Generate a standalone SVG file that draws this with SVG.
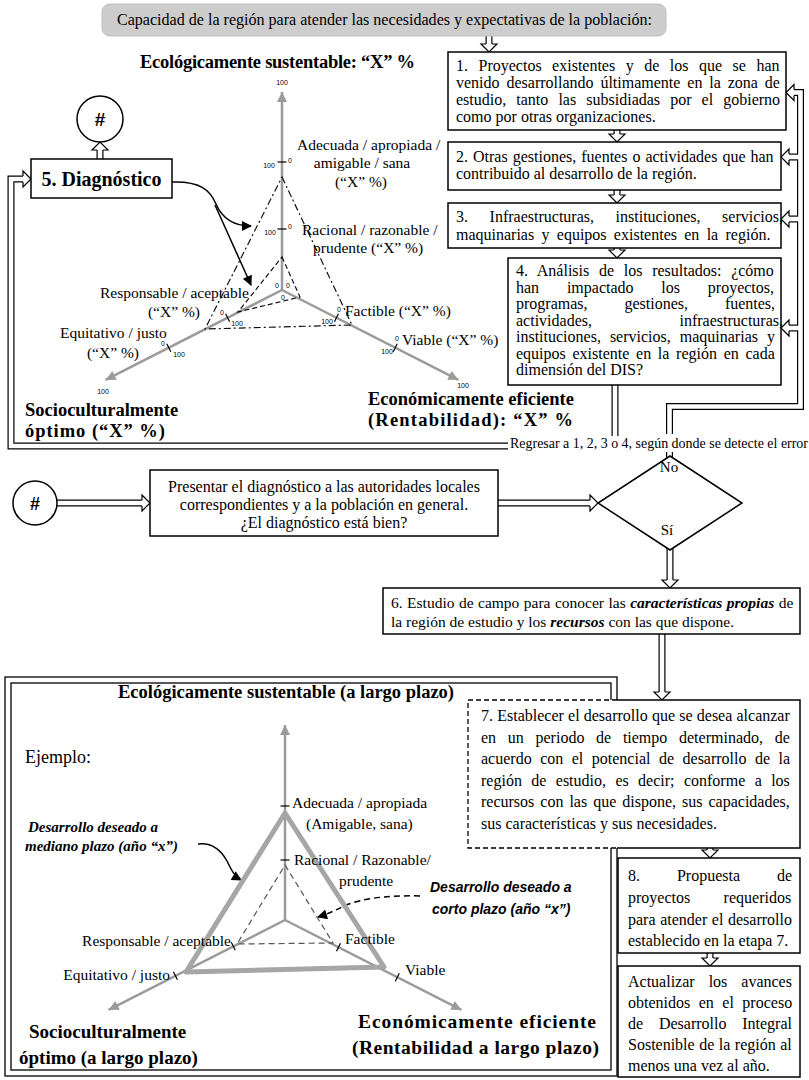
<svg xmlns="http://www.w3.org/2000/svg" width="809" height="1080" viewBox="0 0 809 1080">
<style>
.t{font-family:"Liberation Serif","Times New Roman",serif;font-size:16px;fill:#000}
.b{font-weight:bold}
.bi{font-weight:bold;font-style:italic}
.lab{font-size:15.5px}
.big{font-size:18.5px;font-weight:bold}
.sans{font-family:"Liberation Sans",Arial,sans-serif}
.sm{font-family:"Liberation Sans",Arial,sans-serif;font-size:7px;fill:#000}
.box{fill:#fff;stroke:#000;stroke-width:1.5}
.pb{fill:none;stroke:#000;stroke-width:7;stroke-linejoin:miter}
.pw{fill:none;stroke:#fff;stroke-width:4.6;stroke-linejoin:miter}
.ax{stroke:#9b9b9b;stroke-width:2.5;fill:none}
.tk{stroke:#000;stroke-width:1.2}
.dd{fill:none;stroke:#111;stroke-width:1.2;stroke-dasharray:7 3 2 3}
.ds{fill:none;stroke:#111;stroke-width:1.2;stroke-dasharray:5 3}
</style>
<defs>
<path id="hd" d="M-2.9,-8 L-8,-8 L0,0 L8,-8 L2.9,-8" fill="#fff" stroke="#000" stroke-width="1.2"/>
<marker id="ga" viewBox="0 0 10 10" refX="10" refY="5" markerWidth="13" markerHeight="10" markerUnits="userSpaceOnUse" orient="auto"><path d="M0,0 L10,5 L0,10 z" fill="#9b9b9b"/></marker>
<marker id="ab" viewBox="0 0 10 10" refX="9" refY="5" markerWidth="12" markerHeight="10" markerUnits="userSpaceOnUse" orient="auto"><path d="M0,0 L10,5 L0,10 z" fill="#000"/></marker>
</defs>

<g id="connectors">
<g class="pb">
<path d="M489,36 V44"/><path d="M617,130 V134"/><path d="M617,190 V195"/><path d="M617,248 V250"/>
<path d="M669.5,434 V406.5 H800.5 V92.5 H794"/><path d="M800.5,157 H789"/><path d="M800.5,219 H789"/><path d="M800.5,328 H789"/>
<path d="M669.5,452 V466"/>
<path d="M615,385 V446 H11 V179 H23"/>
<path d="M100,159 V150"/>
<path d="M57,503 H142"/><path d="M498,503 H590"/>
<path d="M670,540 V580"/><path d="M662,634 V692"/>
<path d="M710,848 V850"/><path d="M710,953 V958"/>
</g>
<g class="pw">
<path d="M489,36 V44"/><path d="M617,130 V134"/><path d="M617,190 V195"/><path d="M617,248 V250"/>
<path d="M669.5,434 V406.5 H800.5 V92.5 H794"/><path d="M800.5,157 H789"/><path d="M800.5,219 H789"/><path d="M800.5,328 H789"/>
<path d="M669.5,452 V466"/>
<path d="M615,385 V446 H11 V179 H23"/>
<path d="M100,159 V150"/>
<path d="M57,503 H142"/><path d="M498,503 H590"/>
<path d="M670,540 V580"/><path d="M662,634 V692"/>
<path d="M710,848 V850"/><path d="M710,953 V958"/>
</g>
<use href="#hd" transform="translate(489,52)"/>
<use href="#hd" transform="translate(617,142)"/>
<use href="#hd" transform="translate(617,203)"/>
<use href="#hd" transform="translate(617,258)"/>
<use href="#hd" transform="translate(786,92.5) rotate(90)"/>
<use href="#hd" transform="translate(781,157) rotate(90)"/>
<use href="#hd" transform="translate(781,219) rotate(90)"/>
<use href="#hd" transform="translate(781,328) rotate(90)"/>
<use href="#hd" transform="translate(31,179) rotate(-90)"/>
<use href="#hd" transform="translate(100,142) rotate(180)"/>
<use href="#hd" transform="translate(150,503) rotate(-90)"/>
<use href="#hd" transform="translate(598,503) rotate(-90)"/>
<use href="#hd" transform="translate(670,588)"/>
<use href="#hd" transform="translate(662,700)"/>
<use href="#hd" transform="translate(710,858)"/>
<use href="#hd" transform="translate(710,966)"/>
<path d="M172,182 C200,181 210,190 216,204 C222,218 234,226 251,226" fill="none" stroke="#000" stroke-width="1.5" marker-end="url(#ab)"/>
<path d="M215,205 L251,285" fill="none" stroke="#000" stroke-width="1.5" marker-end="url(#ab)"/>
<path d="M198,844 C214,842 222,852 227,861 C231,869 234,876 241,880" fill="none" stroke="#000" stroke-width="1.5" marker-end="url(#ab)"/>
<path d="M420,896 C385,895 362,899 346,905 C336,910 328,914 318,917" fill="none" stroke="#000" stroke-width="1.5" stroke-dasharray="6 4" marker-end="url(#ab)"/>
</g>

<g id="banner">
<rect x="102" y="4" width="564" height="32" rx="8" fill="#cdcdcd" stroke="#bdbdbd"/>
<text class="t" x="117" y="25" textLength="535" lengthAdjust="spacingAndGlyphs">Capacidad de la región para atender las necesidades y expectativas de la población:</text>
</g>

<g id="box1">
<rect class="box" x="448" y="52" width="338" height="78"/>
<text class="t" x="456" y="71" word-spacing="6.5">1. Proyectos existentes y de los que se han</text>
<text class="t" x="456" y="88" word-spacing="2.9">venido desarrollando últimamente en la zona de</text>
<text class="t" x="456" y="105" word-spacing="6.1">estudio, tanto las subsidiadas por el gobierno</text>
<text class="t" x="456" y="122">como por otras organizaciones.</text>
</g>
<g id="box2">
<rect class="box" x="448" y="142" width="333" height="48"/>
<text class="t" x="456" y="162" word-spacing="1">2. Otras gestiones, fuentes o actividades que han</text>
<text class="t" x="456" y="179">contribuido al desarrollo de la región.</text>
</g>
<g id="box3">
<rect class="box" x="448" y="203" width="333" height="45"/>
<text class="t" x="456" y="222" word-spacing="17.6">3. Infraestructuras, instituciones, servicios,</text>
<text class="t" x="456" y="240" word-spacing="3.3">maquinarias y equipos existentes en la región.</text>
</g>
<g id="box4">
<rect class="box" x="508" y="258" width="273" height="127"/>
<text class="t" x="516" y="276" word-spacing="5.7">4. Análisis de los resultados: ¿cómo</text>
<text class="t" x="516" y="292.5" word-spacing="23.8">han impactado los proyectos,</text>
<text class="t" x="516" y="309" word-spacing="32.9">programas, gestiones, fuentes,</text>
<text class="t" x="516" y="325.5" word-spacing="83.5">actividades, infraestructuras,</text>
<text class="t" x="516" y="342" word-spacing="5">instituciones, servicios, maquinarias y</text>
<text class="t" x="516" y="358.5" word-spacing="2.7">equipos existente en la región en cada</text>
<text class="t" x="516" y="375">dimensión del DIS?</text>
</g>
<g id="box5">
<rect class="box" x="31" y="159" width="141" height="39"/>
<text class="t b" x="101.5" y="186" text-anchor="middle" style="font-size:20px">5. Diagnóstico</text>
</g>
<g id="hash1">
<circle cx="100" cy="119" r="23" fill="#fff" stroke="#000" stroke-width="1.5"/>
<text class="sans b" x="100" y="126" text-anchor="middle" style="font-size:19px">#</text>
</g>

<g id="radar-top">
<text class="t big" x="140" y="68" textLength="275" lengthAdjust="spacing">Ecológicamente sustentable: “X” %</text>
<line class="ax" x1="282" y1="290" x2="282" y2="92" marker-end="url(#ga)"/>
<line class="ax" x1="282" y1="290" x2="105.6" y2="379.9" marker-end="url(#ga)"/>
<line class="ax" x1="282" y1="290" x2="458.4" y2="379.9" marker-end="url(#ga)"/>
<polygon class="dd" points="282,177 352,325 205,329"/>
<polygon class="ds" points="282,257 300,297 238,312"/>
<g class="tk">
<line x1="277.5" y1="162" x2="286.5" y2="162"/><line x1="277.5" y1="229" x2="286.5" y2="229"/>
<line x1="225.6" y1="313.7" x2="229.6" y2="321.7"/><line x1="166.8" y1="343.7" x2="170.8" y2="351.7"/>
<line x1="338.4" y1="313.7" x2="334.4" y2="321.7"/><line x1="397.2" y1="343.7" x2="393.2" y2="351.7"/>
</g>
<g class="sm" text-anchor="middle">
<text x="282" y="85">100</text>
<text x="269" y="168">100</text><text x="290" y="163">0</text>
<text x="270" y="235">100</text><text x="290" y="229">0</text>
<text x="277" y="288">0</text><text x="288" y="288">0</text><text x="283" y="300">0</text>
<text x="222" y="315">0</text><text x="237" y="326">100</text>
<text x="163" y="346">0</text><text x="179" y="357">100</text>
<text x="339" y="312">0</text><text x="327" y="324">100</text>
<text x="397" y="341">0</text><text x="387" y="354">100</text>
<text x="103" y="394">100</text><text x="463" y="388">100</text>
</g>
<g class="t lab">
<text x="297" y="150">Adecuada / apropiada /</text>
<text x="362" y="168" text-anchor="middle">amigable / sana</text>
<text x="361" y="187" text-anchor="middle">(“X” %)</text>
<text x="302" y="235">Racional / razonable /</text>
<text x="313" y="253">prudente (“X” %)</text>
<text x="100" y="298">Responsable / aceptable</text>
<text x="174" y="317" text-anchor="middle">(“X” %)</text>
<text x="60" y="338">Equitativo / justo</text>
<text x="113" y="358" text-anchor="middle">(“X” %)</text>
<text x="345" y="316">Factible (“X” %)</text>
<text x="402" y="345">Viable (“X” %)</text>
</g>
<text class="t big" x="25" y="416">Socioculturalmente</text>
<text class="t big" x="25" y="437" textLength="140" lengthAdjust="spacing">óptimo (“X” %)</text>
<text class="t big" x="368" y="405">Económicamente eficiente</text>
<text class="t big" x="368" y="426" textLength="205" lengthAdjust="spacing">(Rentabilidad): “X” %</text>
</g>

<g id="regresar">
<rect x="508" y="436" width="301" height="15" fill="#fff"/>
<text class="t" x="510" y="448" textLength="298" lengthAdjust="spacingAndGlyphs" style="font-size:13.8px">Regresar a 1, 2, 3 o 4, según donde se detecte el error</text>
</g>
<g id="hash2">
<circle cx="35" cy="503" r="22" fill="#fff" stroke="#000" stroke-width="1.5"/>
<text class="sans b" x="35" y="510" text-anchor="middle" style="font-size:18px">#</text>
</g>
<g id="presentar">
<rect class="box" x="150" y="470" width="348" height="66"/>
<text class="t" x="324" y="492" text-anchor="middle">Presentar el diagnóstico a las autoridades locales</text>
<text class="t" x="324" y="510" text-anchor="middle">correspondientes y a la población en general.</text>
<text class="t" x="324" y="528" text-anchor="middle">¿El diagnóstico está bien?</text>
</g>
<g id="decision">
<polygon points="670,456 742,503 670,550 598,503" fill="#fff" stroke="#000" stroke-width="1.5"/>
<text class="t" x="669" y="472" text-anchor="middle" style="font-size:15px">No</text>
<text class="t" x="667" y="535" text-anchor="middle" style="font-size:15px">Sí</text>
</g>
<g id="box6">
<rect class="box" x="383" y="588" width="417" height="46"/>
<text class="t" x="391" y="608" word-spacing="0.6" style="font-size:15.5px">6. Estudio de campo para conocer las <tspan class="bi">características propias</tspan> de</text>
<text class="t" x="391" y="627" style="font-size:15.5px">la región de estudio y los <tspan class="bi">recursos</tspan> con las que dispone.</text>
</g>

<g id="example-frame">
<rect x="5" y="677" width="612" height="399" fill="none" stroke="#000" stroke-width="1.3"/>
<rect x="11" y="683" width="600" height="387" fill="none" stroke="#000" stroke-width="1.3"/>
<text class="t big" x="118" y="698">Ecológicamente sustentable (a largo plazo)</text>
<text class="t" x="25" y="763" style="font-size:18px">Ejemplo:</text>
<line class="ax" x1="285" y1="920" x2="285" y2="725" marker-end="url(#ga)"/>
<line class="ax" x1="285" y1="920" x2="108.6" y2="1009.9" marker-end="url(#ga)"/>
<line class="ax" x1="285" y1="920" x2="461.4" y2="1009.9" marker-end="url(#ga)"/>
<polygon points="285,813 384,967 186,972" fill="none" stroke="#a6a6a6" stroke-width="5" stroke-linejoin="round"/>
<polygon points="285,865 333,943 237,944" fill="none" stroke="#555" stroke-width="1.2" stroke-dasharray="6 4"/>
<g class="tk">
<line x1="280.5" y1="806" x2="289.5" y2="806"/><line x1="280.5" y1="860" x2="289.5" y2="860"/>
<line x1="231.3" y1="942.3" x2="235.3" y2="950.3"/><line x1="173.4" y1="971.8" x2="177.4" y2="979.8"/>
<line x1="340.5" y1="943.2" x2="336.5" y2="951.2"/><line x1="399.3" y1="973.2" x2="395.3" y2="981.2"/>
</g>
<g class="t lab">
<text x="292" y="808">Adecuada / apropiada</text>
<text x="306" y="829">(Amigable, sana)</text>
<text x="294" y="865">Racional / Razonable/</text>
<text x="339" y="886">prudente</text>
<text x="231" y="946" text-anchor="end">Responsable / aceptable</text>
<text x="170" y="980" text-anchor="end">Equitativo / justo</text>
<text x="345" y="944">Factible</text>
<text x="405" y="975">Viable</text>
</g>
<text class="t bi" x="28" y="832" style="font-size:15px">Desarrollo deseado a</text>
<text class="t bi" x="25" y="851" style="font-size:15px">mediano plazo (año “x”)</text>
<text class="sans bi" x="430" y="892" style="font-size:14px">Desarrollo deseado a</text>
<text class="sans bi" x="432" y="914" style="font-size:14px">corto plazo (año “x”)</text>
<text class="t big" x="358" y="1028" textLength="238" lengthAdjust="spacing" style="font-size:19.5px">Económicamente eficiente</text>
<text class="t big" x="352" y="1054" textLength="247" lengthAdjust="spacing" style="font-size:19.5px">(Rentabilidad a largo plazo)</text>
<text class="t big" x="29" y="1038" style="font-size:19px">Socioculturalmente</text>
<text class="t big" x="19" y="1064" style="font-size:19px">óptimo (a largo plazo)</text>
</g>

<g id="box7">
<rect x="468" y="700" width="332" height="148" fill="#fff"/>
<path d="M617,700 H468 V848 H617" fill="none" stroke="#000" stroke-width="1.3" stroke-dasharray="5 3"/>
<path d="M617,700 H800 V848 H617" fill="none" stroke="#000" stroke-width="1.5"/>
<text class="t" x="481" y="721" word-spacing="0.2">7. Establecer el desarrollo que se desea alcanzar</text>
<text class="t" x="481" y="742.5" word-spacing="7.7">en un periodo de tiempo determinado, de</text>
<text class="t" x="481" y="764" word-spacing="4.5">acuerdo con el potencial de desarrollo de la</text>
<text class="t" x="481" y="785.5" word-spacing="5.4">región de estudio, es decir; conforme a los</text>
<text class="t" x="481" y="807" word-spacing="2">recursos con las que dispone, sus capacidades,</text>
<text class="t" x="481" y="828.5">sus características y sus necesidades.</text>
</g>
<g id="box8">
<rect class="box" x="618" y="858" width="182" height="95"/>
<text class="t" x="628" y="881" word-spacing="32.9">8. Propuesta de</text>
<text class="t" x="628" y="903" word-spacing="29.4">proyectos requeridos</text>
<text class="t" x="628" y="925" word-spacing="0.6">para atender el desarrollo</text>
<text class="t" x="628" y="946">establecido en la etapa 7.</text>
</g>
<g id="box9">
<rect class="box" x="618" y="966" width="182" height="111"/>
<text class="t" x="628" y="987" word-spacing="10">Actualizar los avances</text>
<text class="t" x="628" y="1008" word-spacing="4.5">obtenidos en el proceso</text>
<text class="t" x="628" y="1029" word-spacing="11.8">de Desarrollo Integral</text>
<text class="t" x="628" y="1050" word-spacing="0.5">Sostenible de la región al</text>
<text class="t" x="628" y="1071">menos una vez al año.</text>
</g>
</svg>
